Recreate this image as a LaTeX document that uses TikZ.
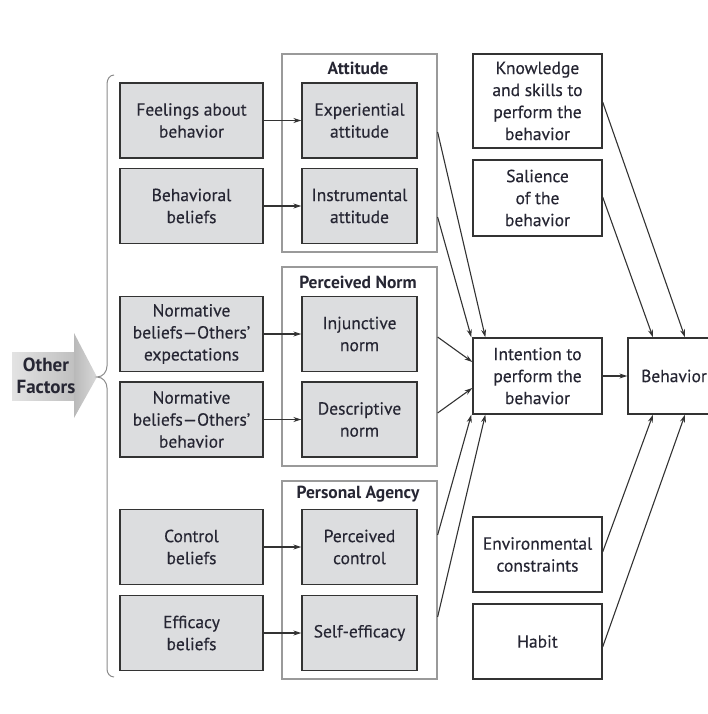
\documentclass[tikz,border=0pt]{standalone}
\usepackage{fontspec}
\setmainfont{PT Sans}
\newfontfamily\medfont{PT Sans}[FakeBold=0.35]
\usetikzlibrary{arrows.meta,calc}
\definecolor{boxgray}{HTML}{DCDDDF}
\definecolor{txt}{HTML}{262633}
\definecolor{edge}{HTML}{333333}
\definecolor{grp}{HTML}{9A9A9A}
\begin{document}
\begin{tikzpicture}[x=1pt,y=-1pt,
  font=\medfont\fontsize{17.5}{22}\selectfont, text=txt,
  gbox/.style={draw=edge, fill=boxgray, line width=1.3pt, minimum width=143pt, minimum height=75pt, align=center, inner sep=0pt},
  ibox/.style={gbox, minimum width=115pt},
  wbox/.style={draw=edge, fill=white, line width=1.3pt, minimum width=129pt, minimum height=75pt, align=center, inner sep=0pt},
  grpbox/.style={draw=grp, line width=1.2pt, minimum width=155pt, inner sep=0pt},
  ttl/.style={font=\fontsize{17.5}{21}\selectfont\bfseries},
  conn/.style={draw=edge, line width=1.1pt, -{Stealth[length=8pt,width=5pt]}}
]
\useasboundingbox (0,0) rectangle (707,714);

% group boxes
\node[grpbox, minimum height=198pt] (att) at (359.5,153) {};
\node[grpbox, minimum height=199pt] (nrm) at (359.5,366.5) {};
\node[grpbox, minimum height=198pt] (agy) at (359.5,580) {};
\node[ttl] (attT) at (358,68) {Attitude};
\node[ttl] (nrmT) at (358,282) {Perceived Norm};
\node[ttl] (agyT) at (358,494) {Personal Agency};

% left column
\node[gbox] (feel) at (191.5,120.5) {Feelings about\\behavior};
\node[gbox] (bbel) at (191.5,206) {Behavioral\\beliefs};
\node[gbox] (nexp) at (191.5,334) {Normative\\beliefs—Others’\\expectations};
\node[gbox] (nbeh) at (191.5,419.5) {Normative\\beliefs—Others’\\behavior};
\node[gbox] (cbel) at (191.5,547) {Control\\beliefs};
\node[gbox] (ebel) at (191.5,633) {Efficacy\\beliefs};

% inner column
\node[ibox] (exp) at (359.5,120.5) {Experiential\\attitude};
\node[ibox] (ins) at (359.5,206) {Instrumental\\attitude};
\node[ibox] (inj) at (359.5,334) {Injunctive\\norm};
\node[ibox] (des) at (359.5,419.5) {Descriptive\\norm};
\node[ibox] (pc) at (359.5,547) {Perceived\\control};
\node[ibox] (se) at (359.5,633) {Self-efficacy};

% right column
\node[wbox, minimum height=94pt] (know) at (537.5,101) {Knowledge\\and skills to\\perform the\\behavior};
\node[wbox, minimum height=76pt] (sal) at (537.5,198) {Salience\\of the\\behavior};
\node[wbox, minimum height=76pt] (int) at (537.5,376) {Intention to\\perform the\\behavior};
\node[wbox] (env) at (537.5,554.5) {Environmental\\constraints};
\node[wbox] (hab) at (537.5,641.5) {Habit};

% behavior box (extends past the right edge)
\node[draw=edge, line width=1.3pt, minimum width=96pt, minimum height=76pt, inner sep=0pt] (beh) at (676,376) {};
\node (behT) at (674,376) {Behavior};

% other factors arrow
\shade[left color=gray!22, right color=gray!50] (12,352) rectangle (75,400);
\shade[left color=gray!55, right color=gray!30] (74,333) -- (97,377) -- (74,418) -- cycle;
\node[font=\fontsize{19}{22}\selectfont\bfseries, align=center] (oth) at (46,376) {Other\\Factors};

% brace
\draw[grp!90!black, line width=1pt] (114,75) to[out=180,in=90] (107,84) -- (107,366)
  to[out=-90,in=0] (97,377) to[out=0,in=90] (107,388) -- (107,669) to[out=-90,in=180] (114,677);

% horizontal arrows
\draw[conn] (feel) -- (exp);
\draw[conn] (bbel) -- (ins);
\draw[conn] (nexp) -- (inj);
\draw[conn] (nbeh) -- (des);
\draw[conn] (cbel) -- (pc);
\draw[conn] (ebel) -- (se);
\draw[conn] (int) -- (beh.west |- int.east);

% start points on group boxes
\coordinate (s1) at (att.east |- 0,132);
\coordinate (s2) at (att.east |- 0,217);
\coordinate (s3) at (nrm.east |- 0,337);
\coordinate (s4) at (nrm.east |- 0,413);
\coordinate (s5) at (agy.east |- 0,535);
\coordinate (s6) at (agy.east |- 0,617);
% end points on intention
\coordinate (t1) at ($(int.north west)+(13,0)$);
\coordinate (t2) at ($(int.north west)+(-1,0)$);
\coordinate (t3) at ($(int.west)+(0,-14)$);
\coordinate (t4) at ($(int.west)+(0,12)$);
\coordinate (t5) at ($(int.south west)+(-1,0)$);
\coordinate (t6) at ($(int.south west)+(13,0)$);
\draw[conn] (s1) -- (t1);
\draw[conn] (s2) -- (t2);
\draw[conn] (s3) -- (t3);
\draw[conn] (s4) -- (t4);
\draw[conn] (s5) -- (t5);
\draw[conn] (s6) -- (t6);

% right side
\coordinate (r1) at (know.east |- 0,102);
\coordinate (r2) at (sal.east |- 0,197);
\coordinate (r3) at (env.east |- 0,552);
\coordinate (r4) at (hab.east |- 0,647);
\coordinate (b1) at (beh.north west -| 685,0);
\coordinate (b2) at (beh.north west -| 653,0);
\coordinate (b3) at (beh.south west -| 653,0);
\coordinate (b4) at (beh.south west -| 685,0);
\draw[conn] (r1) -- (b1);
\draw[conn] (r2) -- (b2);
\draw[conn] (r3) -- (b3);
\draw[conn] (r4) -- (b4);
\end{tikzpicture}
\end{document}
